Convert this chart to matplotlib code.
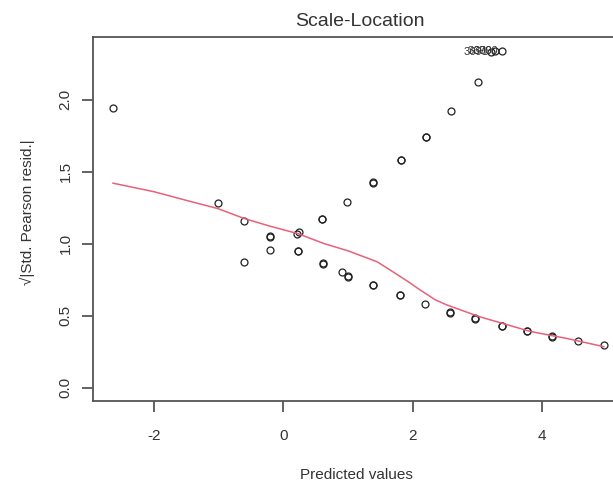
import matplotlib
matplotlib.use("Agg")
import matplotlib.pyplot as plt

# Data
pred_x = [-2.64, -1.02, -0.61, -0.61, -0.21, -0.21, -0.21, 0.21, 0.24, 0.22, 0.22,
          0.60, 0.60, 0.61, 0.61, 0.91, 0.99, 1.00, 1.00, 1.39, 1.39, 1.39, 1.39,
          1.82, 1.82, 1.80, 1.80, 2.20, 2.20, 2.19, 2.60, 2.58, 2.58, 3.01, 2.97, 2.97,
          3.38, 3.38, 3.77, 3.77, 4.16, 4.16, 4.56, 4.97,
          3.22, 3.28, 3.38]
resid_y = [1.94, 1.28, 1.16, 0.87, 1.05, 1.045, 0.955, 1.066, 1.08, 0.948, 0.95,
           1.17, 1.17, 0.86, 0.865, 0.80, 1.29, 0.77, 0.775, 1.42, 1.43, 0.71, 0.71,
           1.58, 1.58, 0.64, 0.645, 1.74, 1.74, 0.58, 1.92, 0.52, 0.525, 2.12, 0.476, 0.48,
           0.43, 0.43, 0.39, 0.395, 0.35, 0.355, 0.32, 0.296,
           2.33, 2.34, 2.34]
id_x = [3.22, 3.28, 3.38]
id_y = [2.33, 2.34, 2.34]
id_labels = ["3691", "3699", "3700"]

loess_x = [-2.64, -2.0, -1.5, -1.02, -0.61, -0.2, 0.22, 0.63, 1.0, 1.45, 1.71, 1.95,
           2.12, 2.35, 2.53, 2.8, 3.05, 3.4, 3.82, 4.4, 4.96]
loess_y = [1.42, 1.36, 1.30, 1.244, 1.175, 1.12, 1.07, 1.0, 0.95, 0.874, 0.80, 0.73,
           0.677, 0.61, 0.574, 0.53, 0.49, 0.445, 0.39, 0.34, 0.284]

xticks = [-2, 0, 2, 4]
yticks = [0.0, 0.5, 1.0, 1.5, 2.0]

plt.rcParams['font.family'] = ['Liberation Sans', 'DejaVu Sans']
W, H = 613, 488
fig = plt.figure(figsize=(W / 100, H / 100), dpi=100)
left, right, top, bottom = 93.3, 626.0, 37.3, 401.0
ax = fig.add_axes([left / W, 1 - bottom / H, (right - left) / W, (bottom - top) / H])

axis_col = '#555555'
text_col = '#333333'

ax.plot(pred_x, resid_y, linestyle='none', marker='o', markersize=5,
        markerfacecolor='none', markeredgecolor='#222222', markeredgewidth=0.9)
ax.plot(loess_x, loess_y, color='#e8607a', linewidth=1.1)

for xx, yy, lab in zip(id_x, id_y, id_labels):
    ax.text(xx - 0.05, yy, lab, ha='right', va='center', fontsize=8, color='#333333')

ax.set_xlim(-2.945, 5.305)
ax.set_ylim(-0.0936, 2.4336)
ax.set_xticks(xticks)
ax.set_xticklabels([str(t) for t in xticks])
ax.set_yticks(yticks)
ax.set_yticklabels([f"{t:.1f}" for t in yticks])

for s in ax.spines.values():
    s.set_color(axis_col)
    s.set_linewidth(1.3)

ax.tick_params(axis='x', length=8, width=1.3, color=axis_col, labelsize=11,
               labelcolor=text_col, pad=12)
ax.tick_params(axis='y', length=8, width=1.3, color=axis_col, labelsize=11,
               labelcolor=text_col, pad=7)
plt.setp(ax.get_yticklabels(), rotation=90, va='center')

fig.text((left + right) / 2 / W, 1 - 22 / H, "Scale-Location", ha='center', va='center',
         fontsize=14, color=text_col)
fig.text(356 / W, 1 - 475 / H, "Predicted values", ha='center', va='center',
         fontsize=11, color=text_col)
fig.text(27 / W, 1 - 212 / H, "√|Std. Pearson resid.|", ha='center', va='center',
         rotation=90, fontsize=11, color=text_col)

fig.savefig("out.png", dpi=100)
